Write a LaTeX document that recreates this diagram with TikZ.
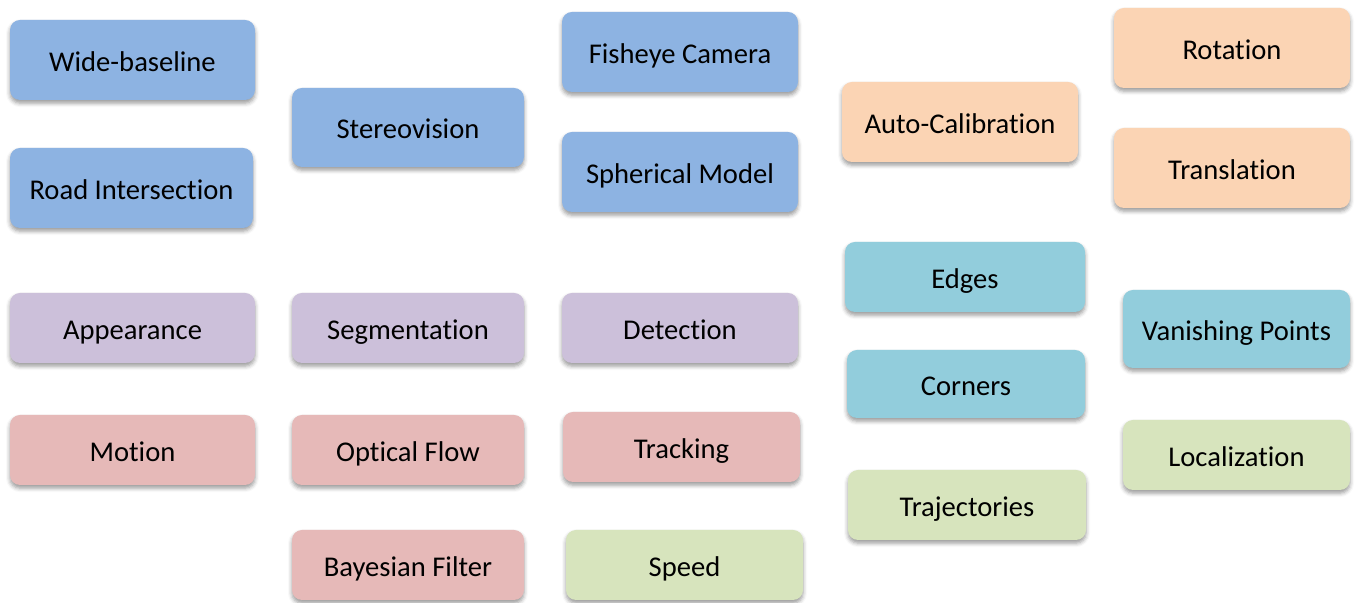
\documentclass[tikz,border=0pt]{standalone}
\usepackage{fontspec}
\setmainfont{Carlito}[Ligatures=NoCommon]
\usetikzlibrary{shadows.blur}

\definecolor{cblue}{HTML}{8DB3E2}
\definecolor{corange}{HTML}{FBD4B4}
\definecolor{cpurple}{HTML}{CCC0DA}
\definecolor{cred}{HTML}{E6B9B8}
\definecolor{cteal}{HTML}{92CDDC}
\definecolor{cgreen}{HTML}{D7E4BD}

\begin{document}
\begin{tikzpicture}[
  x=0.5pt, y=-0.5pt,
  font=\fontsize{14.3}{17}\selectfont,
  tile/.style={rectangle, rounded corners=5pt, draw=none, align=center,
               inner sep=2pt, text height=12pt, text depth=0.5pt,
               blur shadow={shadow xshift=0pt, shadow yshift=-1.6pt,
                            shadow blur radius=2pt, shadow opacity=40}},
  sz/.style 2 args={minimum width=#1*0.5pt, minimum height=#2*0.5pt},
  geom/.style={tile, fill=cblue},
  calib/.style={tile, fill=corange},
  recog/.style={tile, fill=cpurple},
  dyn/.style={tile, fill=cred},
  feat/.style={tile, fill=cteal},
  appl/.style={tile, fill=cgreen},
]
\useasboundingbox (0,0) rectangle (1357,603);

% Column 1
\node[geom, sz={245}{80}] (wide) at (132.5,60) {Wide-baseline};
\node[geom, sz={243}{80}] (road) at (131.5,188) {Road Intersection};
\node[recog, sz={245}{70}] (appear) at (132.5,328) {Appearance};
\node[dyn, sz={245}{70}] (motion) at (132.5,450) {Motion};

% Column 2
\node[geom, sz={232}{79}] (stereo) at (408,127.5) {Stereovision};
\node[recog, sz={232}{70}] (segm) at (408,328) {Segmentation};
\node[dyn, sz={232}{70}] (optflow) at (408,450) {Optical Flow};
\node[dyn, sz={232}{70}] (bayes) at (408,565) {Bayesian Filter};

% Column 3
\node[geom, sz={236}{80}] (fisheye) at (680,52) {Fisheye Camera};
\node[geom, sz={236}{80}] (spher) at (680,172) {Spherical Model};
\node[recog, sz={236}{70}] (detect) at (680,328) {Detection};
\node[dyn, sz={237}{70}] (track) at (681.5,447) {Tracking};
\node[appl, sz={237}{70}] (speed) at (684.5,565) {Speed};

% Column 4
\node[calib, sz={236}{80}] (autocal) at (960,122) {Auto-Calibration};
\node[feat, sz={240}{70}] (edges) at (965,277) {Edges};
\node[feat, sz={238}{68}] (corners) at (966,384) {Corners};
\node[appl, sz={238}{70}] (traj) at (967,505) {Trajectories};

% Column 5
\node[calib, sz={236}{80}] (rot) at (1232,48) {Rotation};
\node[calib, sz={236}{80}] (transl) at (1232,168) {Translation};
\node[feat, sz={227}{78}] (vanish) at (1236.5,329) {Vanishing Points};
\node[appl, sz={227}{70}] (local) at (1236.5,455) {Localization};
\end{tikzpicture}
\end{document}
